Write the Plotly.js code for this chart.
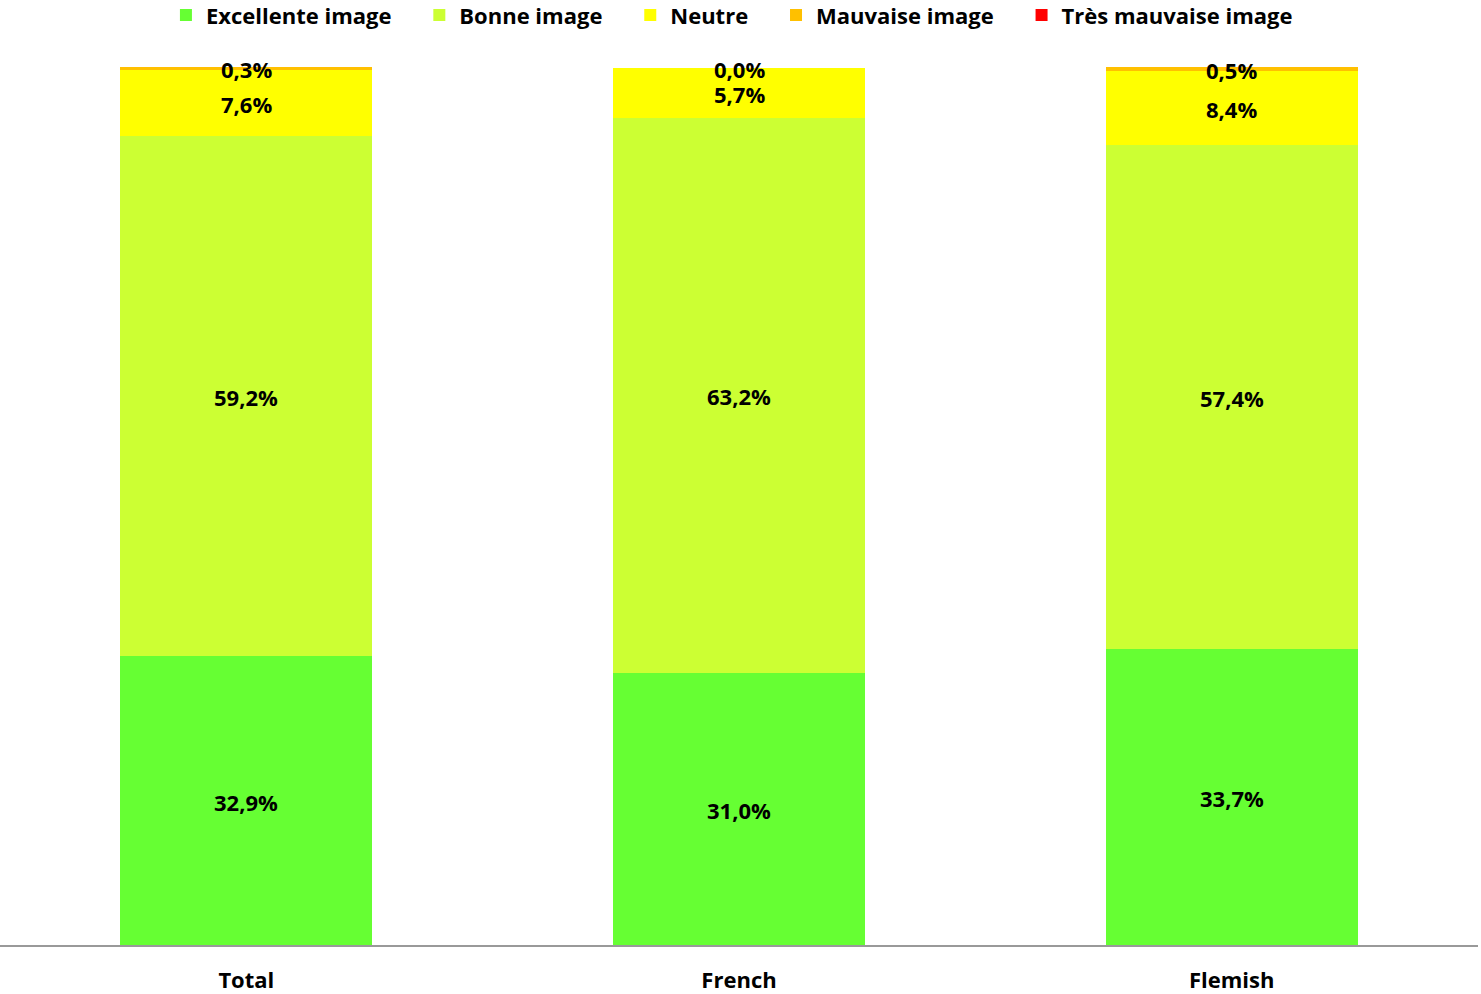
<!DOCTYPE html>
<html><head><meta charset="utf-8">
<script src="https://cdn.plot.ly/plotly-3.0.1.min.js"></script>
<style>html,body{margin:0;padding:0;background:#fff;}#chart{width:1481px;height:994px;}</style>
</head><body><div id="chart"></div>
<script>
const categories = ['Total', 'French', 'Flemish'];
const seriesNames = ['Excellente image', 'Bonne image', 'Neutre', 'Mauvaise image', 'Très mauvaise image'];
const excellente = [32.9, 31.0, 33.7];
const bonne = [59.2, 63.2, 57.4];
const neutre = [7.6, 5.7, 8.4];
const mauvaise = [0.3, 0.0, 0.5];
const tresMauvaise = [0, 0, 0];
const colors = ['#66FF33', '#CCFF33', '#FFFF00', '#FFC000', '#FF0000'];
const showLabels = [true, true, true, true, false];

const allSeries = [excellente, bonne, neutre, mauvaise, tresMauvaise];
const FONT = '"Open Sans", Lato, sans-serif';
const PAD = '\u00a0\u00a0\u00a0\u00a0';
const traces = [];
allSeries.forEach((vals, i) => {
  traces.push({
    type: 'bar', name: seriesNames[i] + PAD, x: categories, y: vals,
    marker: {color: colors[i], line: {width: 0}},
    textposition: 'none', hoverinfo: 'skip'
  });
});
const annotations = [];
const cum = [0, 0, 0];
allSeries.forEach((vals, i) => {
  const centers = vals.map((v, k) => cum[k] + v / 2);
  vals.forEach((v, k) => { cum[k] += v; });
  if (!showLabels[i]) return;
  vals.forEach((v, k) => {
    annotations.push({
      x: categories[k], y: centers[k], xref: 'x', yref: 'y',
      text: v.toFixed(1).replace('.', ',') + '%',
      showarrow: false, yshift: -1, xanchor: 'center', yanchor: 'middle',
      borderpad: 0,
      font: {family: FONT, size: 22, color: '#000', weight: 700}
    });
  });
});

const layout = {
  width: 1481, height: 994,
  margin: {l: 0, r: 3, t: 67, b: 49, autoexpand: false},
  barmode: 'stack', bargap: 0.488,
  paper_bgcolor: '#fff', plot_bgcolor: '#fff',
  separators: ', ',
  font: {family: FONT, color: '#000'},
  xaxis: {
    showline: true, linecolor: '#999', linewidth: 2, ticks: '',
    showgrid: false, zeroline: false, ticklabelstandoff: 15,
    tickfont: {family: FONT, size: 22, color: '#000', weight: 700}
  },
  yaxis: {range: [0, 100], visible: false, fixedrange: true},
  legend: {
    orientation: 'h', x: 0.503, xanchor: 'center', y: 1.083, yanchor: 'top',
    font: {family: FONT, size: 22, color: '#000', weight: 700},
    traceorder: 'normal', itemwidth: 30, tracegroupgap: 0
  },
  annotations: annotations,
  showlegend: true
};
Plotly.newPlot('chart', traces, layout, {displayModeBar: false, staticPlot: true});
</script></body></html>
